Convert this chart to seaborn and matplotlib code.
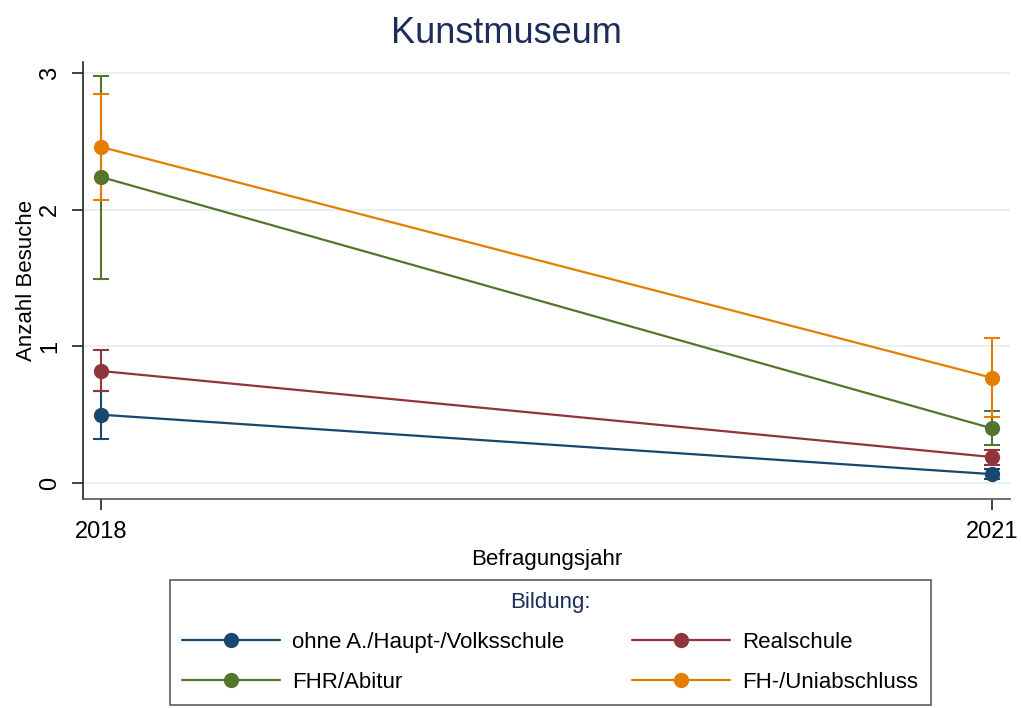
import matplotlib
matplotlib.use("Agg")
from matplotlib import pyplot as plt
import numpy as np
import seaborn as sns
import pandas as pd

# data
years = [2018, 2021]
groups = ["ohne A./Haupt-/Volksschule", "Realschule", "FHR/Abitur", "FH-/Uniabschluss"]
mean_ohne = [0.50, 0.065]
mean_real = [0.82, 0.19]
mean_fhr = [2.24, 0.40]
mean_uni = [2.46, 0.77]
lo_ohne = [0.32, 0.03]
hi_ohne = [0.67, 0.10]
lo_real = [0.67, 0.13]
hi_real = [0.97, 0.24]
lo_fhr = [1.49, 0.28]
hi_fhr = [2.98, 0.53]
lo_uni = [2.07, 0.48]
hi_uni = [2.85, 1.06]

colors = ["#1a476f", "#90353b", "#55752f", "#e37e00"]

means = [mean_ohne, mean_real, mean_fhr, mean_uni]
lows = [lo_ohne, lo_real, lo_fhr, lo_uni]
highs = [hi_ohne, hi_real, hi_fhr, hi_uni]

rows = []
for g, m, lo, hi in zip(groups, means, lows, highs):
    for yr, v, l, h in zip(years, m, lo, hi):
        rows.append({"Befragungsjahr": yr, "Anzahl Besuche": v, "lo": l, "hi": h, "Bildung": g})
df = pd.DataFrame(rows)

sns.set_style("white")
plt.rcParams["font.family"] = ["Liberation Sans", "DejaVu Sans"]
plt.rcParams["text.color"] = "black"
plt.rcParams["axes.labelcolor"] = "black"
plt.rcParams["xtick.color"] = "black"
plt.rcParams["ytick.color"] = "black"

fig = plt.figure(figsize=(10.21, 7.08), dpi=100)
ax = fig.add_axes([0.0813, 0.2952, 0.9077, 0.617])

for g, c in zip(groups, colors):
    sub = df[df["Bildung"] == g]
    ax.errorbar(sub["Befragungsjahr"], sub["Anzahl Besuche"],
                yerr=[sub["Anzahl Besuche"] - sub["lo"], sub["hi"] - sub["Anzahl Besuche"]],
                fmt="none", ecolor=c, elinewidth=1.5, capsize=6, capthick=1.5, zorder=2)

sns.lineplot(data=df, x="Befragungsjahr", y="Anzahl Besuche", hue="Bildung",
             hue_order=groups, palette=colors, marker="o", markersize=11,
             markeredgewidth=0, linewidth=1.6, ax=ax, zorder=3)

ax.set_xlim(2017.94, 2021.06)
ax.set_ylim(-0.117, 3.08)
ax.set_xticks(years)
ax.set_yticks([0, 1, 2, 3])
ax.set_yticklabels(["0", "1", "2", "3"], rotation=90, va="center")
ax.grid(axis="y", color="#e6eff1", linewidth=1.3)
ax.set_axisbelow(True)
ax.tick_params(axis="both", direction="out", length=8, width=1.2, color="#222222",
               labelsize=17, left=True, bottom=True, pad=8)
for side in ["top", "right"]:
    ax.spines[side].set_visible(False)
ax.spines["left"].set_color("#222222")
ax.spines["bottom"].set_color("#555555")
ax.spines["left"].set_linewidth(1.2)
ax.spines["bottom"].set_linewidth(1.2)

ax.set_xlabel("Befragungsjahr", fontsize=16, labelpad=4)
ax.set_ylabel("Anzahl Besuche", fontsize=16, labelpad=1)
fig.suptitle("Kunstmuseum", fontsize=26, color="#1c2d5a", x=0.496, y=0.977, va="top")

handles, labels = ax.get_legend_handles_labels()
ax.get_legend().remove()
# fill legend row by row: (ohne, Real) / (FHR, Uni)
order = [0, 2, 1, 3]
leg = fig.legend([handles[i] for i in order], [labels[i] for i in order], ncol=2,
                 loc="lower left", bbox_to_anchor=(0.1665, 0.004, 0.745, 0.17), mode="expand",
                 borderaxespad=0, title="Bildung:", fontsize=16, title_fontsize=16,
                 frameon=True, fancybox=False, edgecolor="#333333",
                 handlelength=4.4, handletextpad=0.55, borderpad=0.55, labelspacing=0.85)
leg.get_title().set_color("#1c2d5a")
leg.get_frame().set_linewidth(1.2)

fig.savefig("out.png", dpi=100)
